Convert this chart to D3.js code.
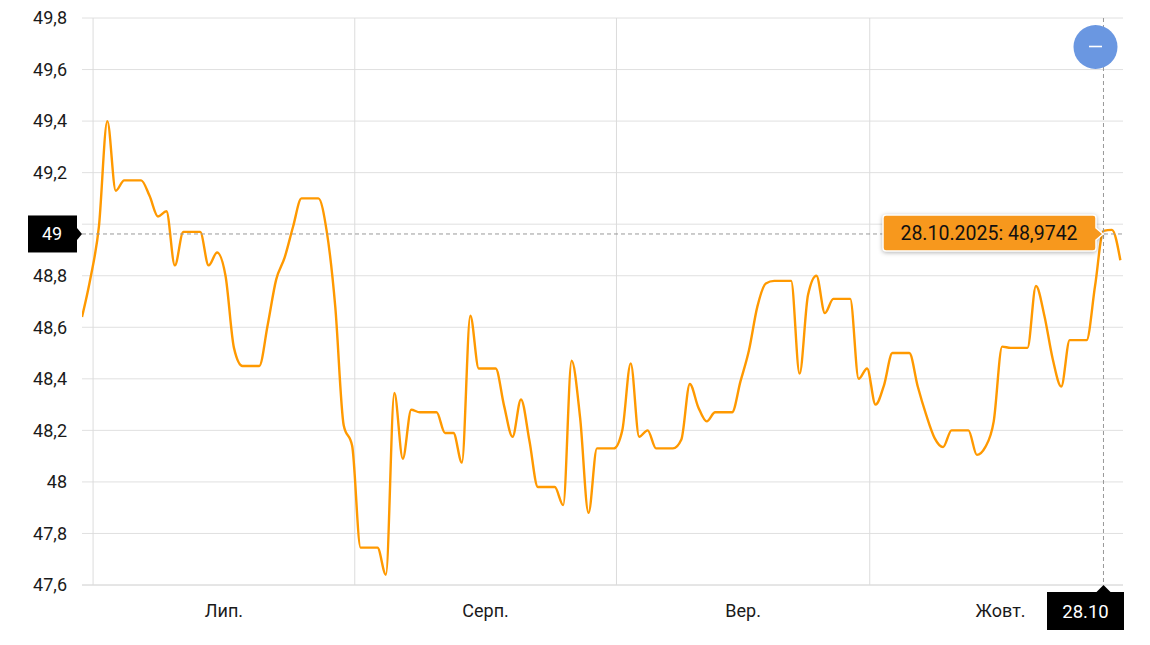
<!DOCTYPE html>
<html>
<head>
<meta charset="utf-8">
<script src="https://cdn.jsdelivr.net/npm/d3@7"></script>
<style>
  body { margin: 0; background: #fff; }
  svg { font-family: Roboto, "Noto Sans", Arial, sans-serif; }
</style>
</head>
<body>
<script>
// first day of the series and the daily values (weekends repeat the Friday rate)
var firstDay = "2025-06-29";
var values = [
  48.64, 48.79, 48.99, 49.40, 49.13, 49.17, 49.17, 49.17, 49.11, 49.03,
  49.05, 48.84, 48.97, 48.97, 48.97, 48.84, 48.89, 48.80, 48.52, 48.45,
  48.45, 48.45, 48.61, 48.785, 48.87, 48.99, 49.10, 49.10, 49.10, 48.97,
  48.68, 48.22, 48.14, 47.745, 47.745, 47.745, 47.64, 48.345, 48.09, 48.28,
  48.27, 48.27, 48.27, 48.19, 48.19, 48.075, 48.645, 48.44, 48.44, 48.44,
  48.295, 48.175, 48.32, 48.16, 47.98, 47.98, 47.98, 47.91, 48.47, 48.25,
  47.88, 48.13, 48.13, 48.13, 48.20, 48.46, 48.175, 48.20, 48.13, 48.13,
  48.13, 48.165, 48.38, 48.29, 48.235, 48.27, 48.27, 48.27, 48.39, 48.51,
  48.68, 48.77, 48.78, 48.78, 48.78, 48.42, 48.725, 48.80, 48.655, 48.71,
  48.71, 48.71, 48.40, 48.44, 48.30, 48.375, 48.50, 48.50, 48.50, 48.37,
  48.26, 48.17, 48.135, 48.20, 48.20, 48.20, 48.105, 48.135, 48.235, 48.525,
  48.52, 48.52, 48.52, 48.76, 48.645, 48.475, 48.37, 48.55, 48.55, 48.55,
  48.76, 48.9742, 48.978, 48.86
];
var yTicks = [47.6, 47.8, 48, 48.2, 48.4, 48.6, 48.8, 49, 49.2, 49.4, 49.6, 49.8];
var monthStarts = ["2025-07-01", "2025-08-01", "2025-09-01", "2025-10-01"];
var monthLabels = ["Лип.", "Серп.", "Вер.", "Жовт."];
var hoverDay = "2025-10-28";
var hoverCursor = 48.962;
var viewEnd = "2025-10-31";

var w = 1150, h = 645;
var plotL = 82, plotR = 1123, plotT = 18, plotB = 585;

var parse = d3.timeParse("%Y-%m-%d");
var fmtFull = d3.timeFormat("%d.%m.%Y");
var fmtShort = d3.timeFormat("%d.%m");
var hourOfDay = 16.5; // timestamp of each daily point

var start = parse(firstDay);
var data = values.map(function(v, i) {
  var t = d3.timeDay.offset(start, i);
  return { day: t, date: new Date(+t + hourOfDay * 3600e3), value: v };
});

var svg = d3.select("body").append("svg")
  .attr("width", w)
  .attr("height", h);

var x = d3.scaleTime()
  .domain([data[0].date, parse(viewEnd)])
  .range([plotL, plotR]);

var y = d3.scaleLinear()
  .domain([47.6, 49.8])
  .range([plotB, plotT]);

var hov = data.filter(function(d) { return +d.day === +parse(hoverDay); })[0];
var hx = x(hov.date), hy = y(hoverCursor);

// horizontal grid
svg.append("g")
  .selectAll("line")
  .data(yTicks)
  .enter().append("line")
  .attr("x1", plotL).attr("x2", plotR)
  .attr("y1", function(d) { return y(d); })
  .attr("y2", function(d) { return y(d); })
  .attr("stroke", function(d) { return d === 47.6 ? "#ccc" : "#e0e0e0"; })
  .attr("stroke-width", 1);

// vertical month grid
svg.append("g")
  .selectAll("line")
  .data(monthStarts)
  .enter().append("line")
  .attr("x1", function(d) { return x(parse(d)); })
  .attr("x2", function(d) { return x(parse(d)); })
  .attr("y1", plotT).attr("y2", plotB)
  .attr("stroke", "#dcdcdc");

// y labels (the one under the crosshair box is hidden)
svg.append("g")
  .selectAll("text")
  .data(yTicks.filter(function(d) { return Math.abs(y(d) - hy) > 19; }))
  .enter().append("text")
  .attr("x", 67)
  .attr("y", function(d) { return y(d); })
  .attr("dy", "0.35em")
  .attr("text-anchor", "end")
  .attr("font-size", 18)
  .attr("fill", "#1a1a1a")
  .text(function(d) { return d3.format("")(d).replace(".", ","); });

// month labels centred in the month
svg.append("g")
  .selectAll("text")
  .data(monthStarts)
  .enter().append("text")
  .attr("x", function(d) {
    var s = parse(d);
    return (x(s) + x(d3.timeMonth.offset(s, 1))) / 2;
  })
  .attr("y", 611)
  .attr("dy", "0.35em")
  .attr("text-anchor", "middle")
  .attr("font-size", 18)
  .attr("fill", "#1a1a1a")
  .text(function(d, i) { return monthLabels[i]; });

svg.append("clipPath").attr("id", "plot")
  .append("rect")
  .attr("x", plotL).attr("y", 0)
  .attr("width", plotR - plotL).attr("height", plotB);

var line = d3.line()
  .x(function(d) { return x(d.date); })
  .y(function(d) { return y(d.value); })
  .curve(d3.curveMonotoneX);

svg.append("path")
  .datum(data)
  .attr("clip-path", "url(#plot)")
  .attr("fill", "none")
  .attr("stroke", "#ff9900")
  .attr("stroke-width", 2.4)
  .attr("stroke-linejoin", "round")
  .attr("d", line);

// crosshair
svg.append("line")
  .attr("x1", plotL).attr("x2", plotR)
  .attr("y1", hy).attr("y2", hy)
  .attr("stroke", "#999").attr("stroke-dasharray", "4,3");
svg.append("line")
  .attr("x1", hx).attr("x2", hx)
  .attr("y1", plotT).attr("y2", plotB)
  .attr("stroke", "#999").attr("stroke-dasharray", "4,3");

// y crosshair label
svg.append("rect")
  .attr("x", 28).attr("y", hy - 18.5)
  .attr("width", 49).attr("height", 37)
  .attr("fill", "#000");
svg.append("path")
  .attr("d", "M77," + (hy - 6) + "L82," + hy + "L77," + (hy + 6) + "Z")
  .attr("fill", "#000");
svg.append("text")
  .attr("x", 52).attr("y", hy)
  .attr("dy", "0.36em")
  .attr("text-anchor", "middle")
  .attr("font-size", 18)
  .attr("fill", "#fff")
  .text(d3.format("")(Math.round(hoverCursor)));

// x crosshair label
svg.append("rect")
  .attr("x", 1047).attr("y", 592)
  .attr("width", 77).attr("height", 38)
  .attr("fill", "#000");
svg.append("path")
  .attr("d", "M" + (hx - 7) + ",592L" + hx + ",585L" + (hx + 7) + ",592Z")
  .attr("fill", "#000");
svg.append("text")
  .attr("x", 1085.5).attr("y", 611)
  .attr("dy", "0.36em")
  .attr("text-anchor", "middle")
  .attr("font-size", 18.5)
  .attr("fill", "#fff")
  .text(fmtShort(hov.day));

// tooltip
var ty = hy;
var tip = svg.append("g");
tip.append("path")
  .attr("d", "M886," + (ty - 19) + "H1093q3,0 3,3V" + (ty - 6) + "L1103," + ty +
    "L1096," + (ty + 6) + "V" + (ty + 14) + "q0,3 -3,3H886q-3,0 -3,-3V" + (ty - 16) + "q0,-3 3,-3Z")
  .attr("fill", "#f7981d")
  .attr("stroke", "#fff")
  .attr("stroke-width", 1.5)
  .style("filter", "drop-shadow(0px 1px 2px rgba(0,0,0,0.3))");
tip.append("text")
  .attr("x", 989).attr("y", ty - 1)
  .attr("dy", "0.36em")
  .attr("text-anchor", "middle")
  .attr("font-size", 19.5)
  .attr("fill", "#111")
  .text(fmtFull(hov.day) + ": " + String(hov.value).replace(".", ","));

// zoom out button
svg.append("circle")
  .attr("cx", 1095.5).attr("cy", 47)
  .attr("r", 22)
  .attr("fill", "#6a97e1");
svg.append("line")
  .attr("x1", 1089).attr("x2", 1102)
  .attr("y1", 46.5).attr("y2", 46.5)
  .attr("stroke", "#fff").attr("stroke-width", 1.6);
</script>
</body>
</html>
